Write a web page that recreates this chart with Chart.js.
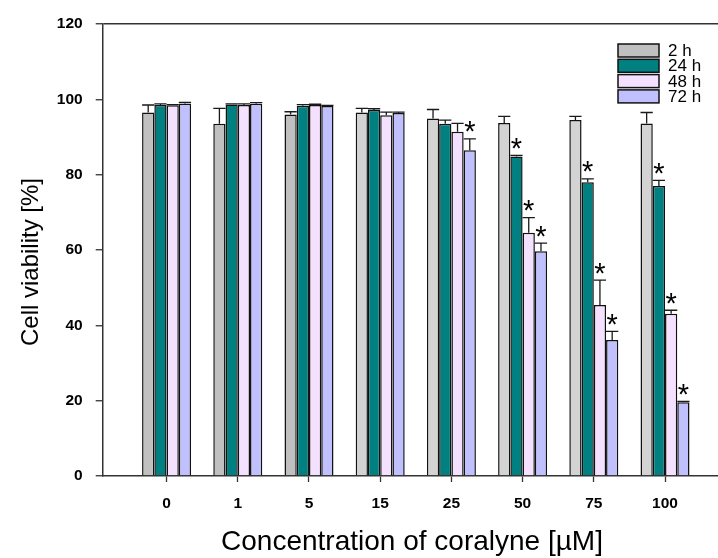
<!DOCTYPE html>
<html>
<head>
<meta charset="utf-8">
<script src="https://cdn.jsdelivr.net/npm/chart.js@4"></script>
<style>
html,body{margin:0;padding:0;background:#fff;}
#c{display:block;}
</style>
</head>
<body>
<canvas id="c" width="718" height="558"></canvas>
<script>
// ---- data ----
const categories = ['0', '1', '5', '15', '25', '50', '75', '100'];
const seriesLabels = ['2 h', '24 h', '48 h', '72 h'];
const h2    = [96.5, 93.5, 96.0, 96.5, 94.9, 93.7, 94.5, 93.6];
const h2Err = [2.0, 4.1, 0.7, 1.1, 2.4, 1.8, 1.0, 2.9];
const h24    = [98.5, 98.6, 98.3, 97.2, 93.5, 84.8, 78.0, 77.0];
const h24Err = [0.3, 0.2, 0.3, 0.3, 1.0, 0.3, 0.9, 1.5];
const h48    = [98.4, 98.5, 98.5, 95.8, 91.4, 64.6, 45.4, 43.1];
const h48Err = [0.2, 0.3, 0.2, 0.8, 2.2, 4.0, 6.6, 0.9];
const h72    = [98.9, 98.8, 98.2, 96.4, 86.5, 59.7, 36.1, 19.6];
const h72Err = [0.3, 0.3, 0.2, 0.2, 3.0, 2.1, 2.3, 0.2];
const sig2  = [0, 0, 0, 0, 0, 0, 0, 0];
const sig24 = [0, 0, 0, 0, 0, 1, 1, 1];
const sig48 = [0, 0, 0, 0, 0, 1, 1, 1];
const sig72 = [0, 0, 0, 0, 1, 1, 1, 1];
const yTicks = [0, 20, 40, 60, 80, 100, 120];

// ---- styles ----
const FONT = '"Liberation Sans", Arial, Helvetica, sans-serif';
const grayShades = ['#c0c0c0', '#c0c0c0', '#c0c0c0', '#d3d3d3', '#d3d3d3', '#d3d3d3', '#d3d3d3', '#d3d3d3'];
const legendColors = ['#c0c0c0', '#008080', '#f4e0ff', '#c0c0ff'];
const AXIS = '#333333';

const values = [h2, h24, h48, h72];
const errs = [h2Err, h24Err, h48Err, h72Err];
const sigs = [sig2, sig24, sig48, sig72];
const fills = [grayShades, '#008080', '#f4e0ff', '#c0c0ff'];

const datasets = values.map((vals, s) => ({
  label: seriesLabels[s],
  data: vals.map((v, i) => ({ x: i, y: v })),
  backgroundColor: fills[s],
  borderColor: '#111111',
  borderWidth: 1.5,
  borderSkipped: 'bottom',
  categoryPercentage: 0.688,
  barPercentage: 1.0
}));

const errorBarPlugin = {
  id: 'errorBars',
  afterDatasetsDraw(chart) {
    const ctx = chart.ctx;
    const y = chart.scales.y;
    ctx.save();
    chart.data.datasets.forEach((ds, s) => {
      const meta = chart.getDatasetMeta(s);
      meta.data.forEach((bar, i) => {
        const e = errs[s][i];
        const v = values[s][i];
        const yTop = y.getPixelForValue(v + e);
        const yBar = y.getPixelForValue(v);
        const half = bar.width / 2;
        ctx.strokeStyle = '#1a1a1a';
        ctx.lineWidth = 1.3;
        if (e > 0) {
          ctx.beginPath();
          ctx.moveTo(bar.x, yBar);
          ctx.lineTo(bar.x, yTop);
          ctx.moveTo(bar.x - half, yTop);
          ctx.lineTo(bar.x + half, yTop);
          ctx.stroke();
        }
        if (sigs[s][i]) {
          ctx.fillStyle = '#000';
          ctx.font = '29px ' + FONT;
          ctx.textAlign = 'center';
          ctx.textBaseline = 'alphabetic';
          const cy = yTop - 14;
          ctx.fillText('*', bar.x, cy + 0.57 * 29);
        }
      });
    });
    ctx.restore();
  }
};

const decorPlugin = {
  id: 'decor',
  afterDraw(chart) {
    const ctx = chart.ctx;
    ctx.save();
    // legend
    const lx = 618, ly = 44, rowH = 15.3, bw = 41, bh = 13;
    seriesLabels.forEach((lab, s) => {
      const top = ly + s * rowH;
      ctx.fillStyle = legendColors[s];
      ctx.fillRect(lx, top, bw, bh);
      ctx.strokeStyle = '#111';
      ctx.lineWidth = 1.5;
      ctx.strokeRect(lx, top, bw, bh);
      ctx.fillStyle = '#000';
      ctx.font = '17px ' + FONT;
      ctx.textAlign = 'left';
      ctx.textBaseline = 'middle';
      ctx.fillText(lab, 668, top + bh / 2 + 1);
    });
    // axis titles
    ctx.fillStyle = '#000';
    ctx.textAlign = 'center';
    ctx.textBaseline = 'alphabetic';
    ctx.font = '28px ' + FONT;
    ctx.fillText('Concentration of coralyne [\u00B5M]', 412, 550);
    ctx.font = '24px ' + FONT;
    ctx.translate(38, 262);
    ctx.rotate(-Math.PI / 2);
    ctx.fillText('Cell viability [%]', 0, 0);
    ctx.restore();
  }
};

new Chart(document.getElementById('c'), {
  type: 'bar',
  data: { datasets },
  plugins: [errorBarPlugin, decorPlugin],
  options: {
    responsive: false,
    animation: false,
    devicePixelRatio: 1,
    layout: { padding: { top: 24, right: 0, bottom: 0, left: 0 } },
    plugins: { legend: { display: false }, tooltip: { enabled: false }, title: { display: false } },
    scales: {
      x: {
        type: 'linear',
        min: -0.897,
        max: 7.744,
        offset: false,
        afterBuildTicks(scale) { scale.ticks = categories.map((c, i) => ({ value: i })); },
        afterFit(scale) { scale.height = 82; },
        ticks: {
          autoSkip: false, maxRotation: 0, padding: 12,
          color: '#000',
          font: { family: FONT, size: 15.5, weight: 'bold' },
          callback: (v) => categories[v]
        },
        grid: { display: true, offset: false, drawOnChartArea: false, drawTicks: true, tickLength: 6, tickColor: AXIS, tickWidth: 1.3 },
        border: { display: true, color: AXIS, width: 1.5 }
      },
      y: {
        min: 0, max: 120,
        afterBuildTicks(scale) { scale.ticks = yTicks.map(v => ({ value: v })); },
        afterFit(scale) { scale.width = 102.7; },
        ticks: {
          padding: 13, color: '#000',
          font: { family: FONT, size: 15.5, weight: 'bold' }
        },
        grid: {
          drawOnChartArea: true,
          color: (c) => (c.tick && c.tick.value === 120) ? AXIS : 'rgba(0,0,0,0)',
          lineWidth: 1.5,
          tickLength: 7, tickColor: AXIS, tickWidth: 1.3
        },
        border: { display: true, color: AXIS, width: 1.5 }
      }
    }
  }
});
</script>
</body>
</html>
